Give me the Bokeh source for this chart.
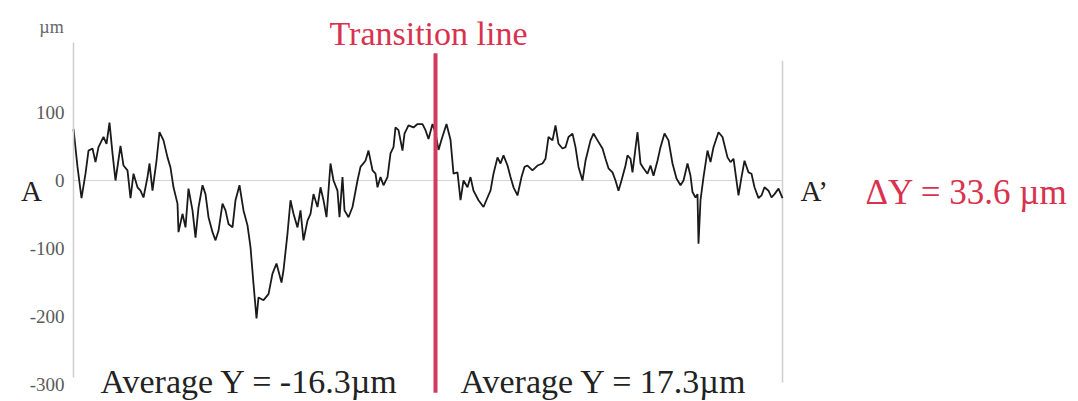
from bokeh.plotting import figure
from bokeh.models import Label, FixedTicker, Range1d, PrintfTickFormatter
from bokeh.embed import file_html
from bokeh.resources import INLINE

# profile position (px-like units along A-A') and height (µm)
position = [0, 4, 8, 12, 15, 19, 22, 25, 30, 33, 36, 39, 42, 47, 50, 54, 57, 60, 64, 67,
            70, 74, 76, 79, 83, 86, 90, 94, 97, 100, 104, 105, 109, 112, 115, 119, 122, 125, 129, 132,
            135, 139, 142, 145, 149, 152, 155, 159, 162, 166, 170, 174, 177, 180, 183, 185, 190, 195, 199, 203,
            208, 210, 214, 217, 220, 224, 227, 230, 234, 237, 240, 244, 247, 250, 253, 257, 260, 264, 266, 269,
            271, 275, 279, 284, 287, 292, 295, 299, 302, 304, 307, 310, 314, 317, 320, 322, 325, 329, 331, 335,
            340, 344, 349, 352, 355, 359, 362, 365, 368, 373, 377, 380, 384, 387, 390, 394, 397, 400, 405, 410,
            414, 417, 420, 424, 427, 430, 434, 437, 440, 444, 448, 451, 454, 459, 464, 469, 472, 475, 479, 482,
            485, 489, 492, 495, 499, 502, 505, 509, 512, 517, 520, 524, 529, 532, 535, 539, 542, 545, 548, 552,
            554, 557, 559, 564, 567, 570, 574, 577, 580, 584, 587, 591, 595, 599, 603, 607, 610, 614, 617, 619,
            622, 624, 625, 627, 630, 634, 637, 640, 645, 649, 654, 657, 660, 665, 668, 671, 675, 678, 681, 685,
            688, 691, 695, 698, 701, 705, 709]
height = [76, 20, -26, 10, 44, 47, 27, 49, 64, 54, 85, 40, 0, 51, 22, 15, -26, 10, -10, -15,
          -25, 5, 25, -15, 29, 71, 59, 34, 19, -10, -34, -76, -49, -69, -12, -44, -84, -40, -7, -20,
          -54, -76, -88, -74, -34, -44, -64, -69, -29, -7, -44, -66, -98, -152, -203, -172, -176, -167, -137, -122,
          -150, -132, -78, -29, -49, -69, -44, -88, -59, -49, -20, -39, -10, -29, -54, 25, 0, -15, -54, 5,
          -44, -54, -39, 0, 20, 29, 44, 15, 10, -10, 5, -7, 5, 40, 49, 78, 74, 44, 69, 81,
          78, 83, 83, 74, 61, 83, 70, 45, 60, 83, 60, 10, 12, -29, 0, -10, 5, -15, -29, -39,
          -25, -15, 10, 34, 25, 37, 22, 5, -10, -22, 5, 20, 22, 15, 22, 25, 32, 64, 59, 81,
          54, 47, 49, 64, 69, 49, 20, 0, 29, 59, 69, 59, 47, 32, 18, 12, 0, -15, 0, 22,
          37, 32, 12, 71, 25, 18, 10, 22, 7, 29, 49, 69, 59, 25, 3, -7, 0, 25, 7, -17,
          -25, -20, -93, -29, 5, 44, 27, 49, 71, 64, 34, 27, 32, -22, 5, 29, 12, 10, -10, -26,
          -22, -10, -15, -25, -20, -12, -26]

y_ticks = [-300, -200, -100, 0, 100]
y_axis_bounds = (-290, 203)
profile_start, profile_end = 0, 709
transition_x = 362
transition_y = [-312, 187]
end_y = [-297, 176]
avg_left = -16.3
avg_right = 17.3
delta_y = 33.6

RED = "#d8324f"
SERIF = "Liberation Serif"

p = figure(width=1078, height=401, output_backend="svg", toolbar_location=None,
           x_range=Range1d(-73, 1005), y_range=Range1d(-325.0, 264.7),
           min_border_left=0, min_border_right=0, min_border_top=0, min_border_bottom=0)
p.outline_line_color = None
p.xgrid.visible = False
p.ygrid.visible = False
p.xaxis.visible = False
ax = p.yaxis[0]
ax.fixed_location = profile_start
ax.bounds = y_axis_bounds
ax.ticker = FixedTicker(ticks=y_ticks)
ax.formatter = PrintfTickFormatter(format="%d")
ax.axis_line_color = "#cfcfcf"
ax.axis_line_width = 1.5
ax.major_tick_line_color = None
ax.minor_tick_line_color = None
ax.major_label_text_font = SERIF
ax.major_label_text_font_size = "19px"
ax.major_label_text_color = "#5a5a5a"
ax.major_label_standoff = 3

# zero reference line and right end line
p.segment(x0=[profile_start], y0=[0], x1=[profile_end], y1=[0], line_color="#d4d4d4", line_width=1.2)
p.segment(x0=[profile_end], y0=[end_y[0]], x1=[profile_end], y1=[end_y[1]], line_color="#cfcfcf", line_width=1.5)

p.line(position, height, line_color="#1a1a1a", line_width=1.8)

p.segment(x0=[transition_x], y0=[transition_y[0]], x1=[transition_x], y1=[transition_y[1]],
          line_color="#d43a5e", line_width=4)

def lab(x, y, text, size, color="#1a1a1a", align="left"):
    p.add_layout(Label(x=x, y=y, text=text, text_font=SERIF, text_font_size=size,
                       text_color=color, text_align=align, text_baseline="alphabetic"))

lab(355, 216, "Transition line", "34px", RED, "center")
lab(-22, 226, "µm", "18px", "#666666", "center")
lab(-42, -15, "A", "29px", "#222222", "center")
lab(727, -15, "A\u2019", "29px", "#222222", "left")
lab(792, -17, "\u0394Y = %.1f µm" % delta_y, "35px", RED, "left")
lab(27, -295, "Average Y = %.1fµm" % avg_left, "34px", "#222222", "left")
lab(387, -295, "Average Y = %.1fµm" % avg_right, "34px", "#222222", "left")

open("out.html", "w").write(file_html(p, INLINE))
